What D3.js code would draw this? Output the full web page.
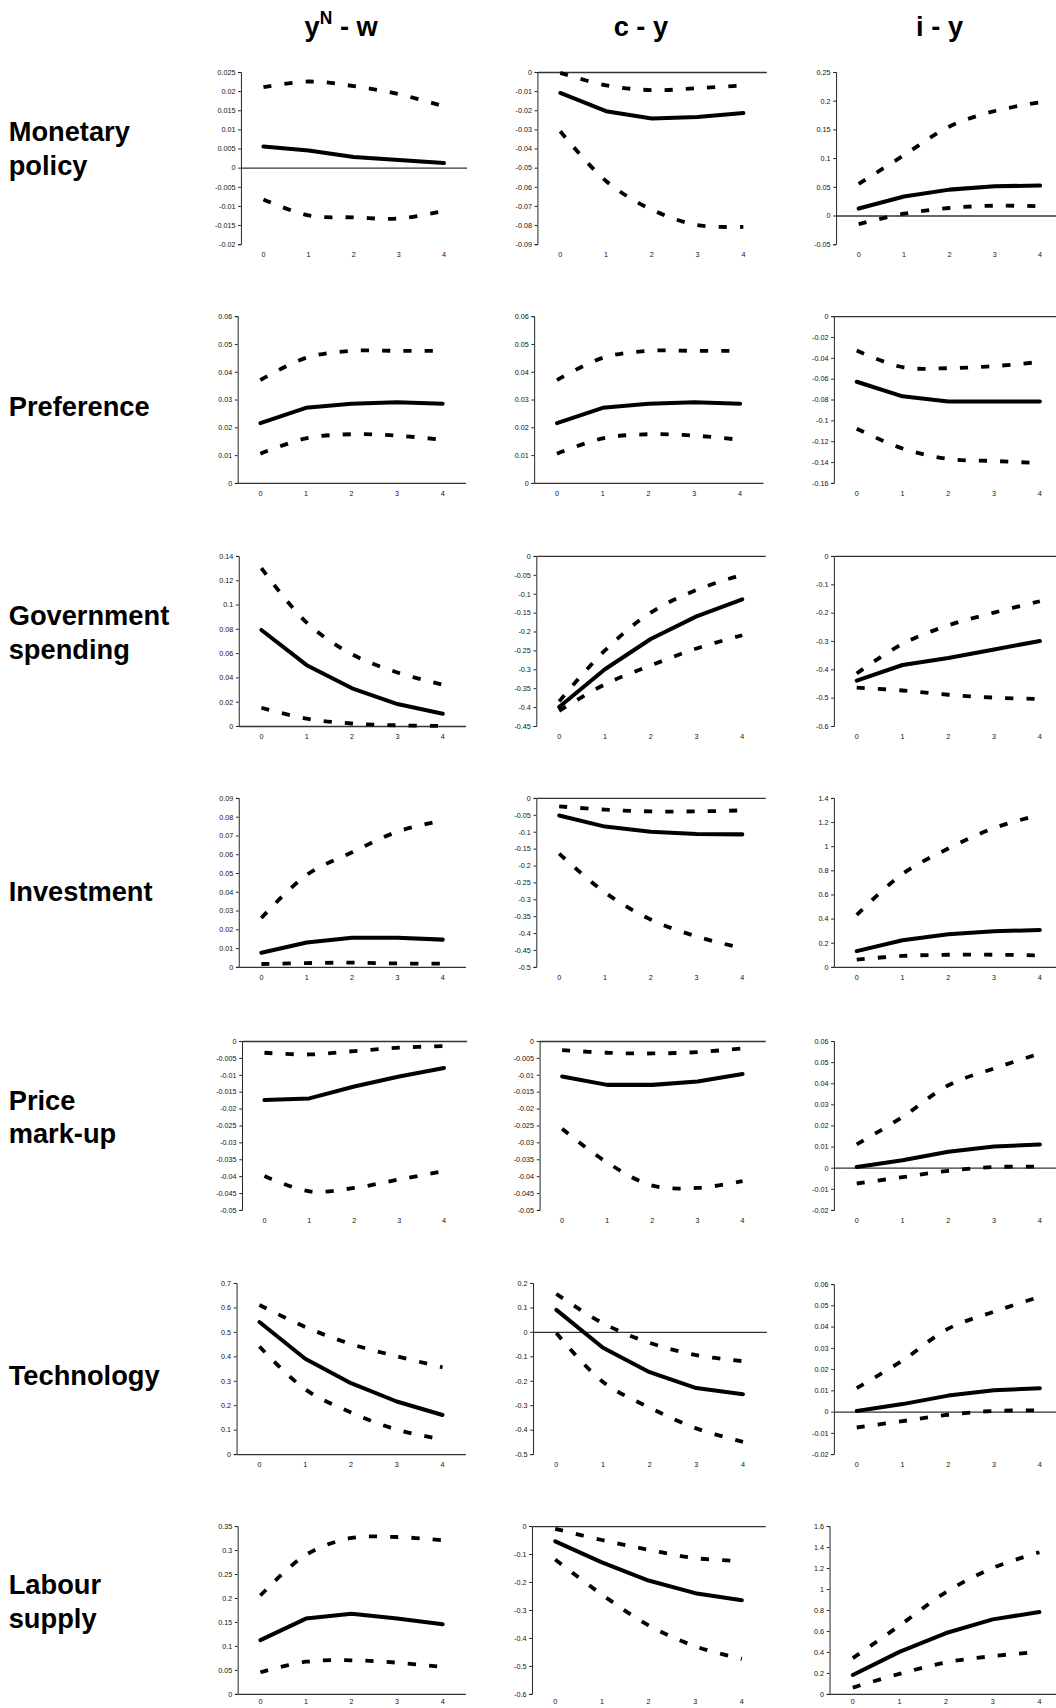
<!DOCTYPE html>
<html>
<head>
<meta charset="utf-8">
<script src="https://cdn.jsdelivr.net/npm/d3@7"></script>
<style>
  body { margin: 0; background: #fff; }
  svg text { font-family: "Liberation Sans", Arial, sans-serif; }
</style>
</head>
<body>
<div id="chart"></div>
<script>
// horizons and labels
var periods = [0, 1, 2, 3, 4];
var shockLabels = [["Monetary", "policy"], ["Preference"], ["Government", "spending"],
                   ["Investment"], ["Price", "mark-up"], ["Technology"], ["Labour", "supply"]];
var varLabels = ["y - w", "c - y", "i - y"];

// each panel: [estimate, upper band, lower band]
var monetary = [
  [[0.0055, 0.0045, 0.0028, 0.002, 0.0012], [0.021, 0.0225, 0.0213, 0.0192, 0.016], [-0.0083, -0.0125, -0.013, -0.0133, -0.0113]],
  [[-0.011, -0.0205, -0.0243, -0.0235, -0.0215], [-0.0005, -0.007, -0.0095, -0.0085, -0.007], [-0.031, -0.057, -0.072, -0.08, -0.081]],
  [[0.012, 0.033, 0.045, 0.051, 0.052], [0.055, 0.105, 0.155, 0.182, 0.197], [-0.015, 0.003, 0.013, 0.017, 0.016]]
];
var preference = [
  [[0.0215, 0.027, 0.0285, 0.029, 0.0285], [0.037, 0.045, 0.0475, 0.0475, 0.0475], [0.0105, 0.016, 0.0175, 0.017, 0.0155]],
  [[0.0215, 0.027, 0.0285, 0.029, 0.0285], [0.037, 0.045, 0.0475, 0.0475, 0.0475], [0.0105, 0.016, 0.0175, 0.017, 0.0155]],
  [[-0.063, -0.077, -0.082, -0.082, -0.082], [-0.033, -0.049, -0.05, -0.048, -0.044], [-0.108, -0.127, -0.137, -0.139, -0.141]]
];
var government = [
  [[0.079, 0.05, 0.031, 0.018, 0.01], [0.13, 0.085, 0.059, 0.044, 0.034], [0.015, 0.006, 0.002, 0.0005, 0.0]],
  [[-0.40, -0.30, -0.22, -0.16, -0.115], [-0.385, -0.25, -0.15, -0.09, -0.05], [-0.41, -0.34, -0.29, -0.245, -0.21]],
  [[-0.44, -0.385, -0.36, -0.33, -0.30], [-0.415, -0.31, -0.245, -0.2, -0.16], [-0.465, -0.475, -0.49, -0.50, -0.505]]
];
var investment = [
  [[0.0075, 0.013, 0.0155, 0.0155, 0.0145], [0.026, 0.049, 0.061, 0.072, 0.078], [0.0015, 0.002, 0.0022, 0.0018, 0.0017]],
  [[-0.052, -0.085, -0.1, -0.107, -0.108], [-0.025, -0.035, -0.04, -0.04, -0.037], [-0.165, -0.28, -0.36, -0.41, -0.445]],
  [[0.13, 0.22, 0.27, 0.295, 0.305], [0.43, 0.77, 0.98, 1.15, 1.26], [0.06, 0.09, 0.1, 0.1, 0.095]]
];
var markup = [
  [[-0.0175, -0.017, -0.0135, -0.0105, -0.008], [-0.0035, -0.004, -0.003, -0.002, -0.0015], [-0.040, -0.0445, -0.0435, -0.041, -0.0385]],
  [[-0.0105, -0.013, -0.013, -0.012, -0.0098], [-0.0027, -0.0035, -0.0037, -0.0033, -0.0022], [-0.026, -0.036, -0.0428, -0.0435, -0.0415]],
  [[0.0003, 0.0035, 0.0075, 0.01, 0.011], [0.011, 0.024, 0.039, 0.047, 0.054], [-0.0075, -0.0045, -0.0015, 0.0003, 0.0005]]
];
var technology = [
  [[0.54, 0.39, 0.29, 0.215, 0.16], [0.61, 0.52, 0.45, 0.4, 0.355], [0.44, 0.265, 0.17, 0.1, 0.06]],
  [[0.09, -0.065, -0.165, -0.23, -0.255], [0.155, 0.035, -0.045, -0.095, -0.12], [-0.005, -0.205, -0.31, -0.395, -0.45]],
  [[0.0003, 0.0035, 0.0075, 0.01, 0.011], [0.011, 0.024, 0.039, 0.047, 0.054], [-0.0075, -0.0045, -0.0015, 0.0003, 0.0005]]
];
var labour = [
  [[0.112, 0.157, 0.167, 0.157, 0.145], [0.205, 0.29, 0.325, 0.327, 0.32], [0.045, 0.067, 0.07, 0.065, 0.056]],
  [[-0.055, -0.13, -0.195, -0.24, -0.265], [-0.01, -0.05, -0.085, -0.115, -0.125], [-0.12, -0.245, -0.355, -0.43, -0.475]],
  [[0.18, 0.4, 0.58, 0.71, 0.78], [0.34, 0.65, 0.97, 1.2, 1.35], [0.06, 0.19, 0.3, 0.36, 0.4]]
];
var shocks = [monetary, preference, government, investment, markup, technology, labour];

// y axis [min, max, step] per panel
var yAxes = [
  [[-0.02, 0.025, 0.005], [-0.09, 0, 0.01], [-0.05, 0.25, 0.05]],
  [[0, 0.06, 0.01], [0, 0.06, 0.01], [-0.16, 0, 0.02]],
  [[0, 0.14, 0.02], [-0.45, 0, 0.05], [-0.6, 0, 0.1]],
  [[0, 0.09, 0.01], [-0.5, 0, 0.05], [0, 1.4, 0.2]],
  [[-0.05, 0, 0.005], [-0.05, 0, 0.005], [-0.02, 0.06, 0.01]],
  [[0, 0.7, 0.1], [-0.5, 0.2, 0.1], [-0.02, 0.06, 0.01]],
  [[0, 0.35, 0.05], [-0.6, 0, 0.1], [0, 1.6, 0.2]]
];

// plot boxes (in a 969 wide frame, scaled up below): left, top, bottom, right
var boxes = [
  [[221, 66, 224, 428], [493, 66, 224, 703], [767, 66, 224, 975]],
  [[218, 290, 443, 427], [490, 290, 443, 700], [765, 290, 443, 975]],
  [[219, 510, 666, 427], [492, 510, 666, 702], [765, 510, 666, 975]],
  [[219, 732, 887, 427], [492, 732, 887, 702], [765, 732, 887, 975]],
  [[222, 955, 1110, 428], [495, 955, 1110, 702], [765, 955, 1110, 975]],
  [[217, 1177, 1334, 427], [489, 1177, 1334, 703], [765, 1178, 1334, 975]],
  [[218, 1400, 1554, 427], [488, 1400, 1554, 702], [761, 1400, 1554, 975]]
];
var labelPad = [7, 7, 7, 7, 7, 7, 5];
var labelBase = [[129, 161], [382], [573, 605], [827], [1018, 1049], [1271], [1462, 1494]];
var titleX = [313, 588, 862];

var width = 1056, height = 1708, k = 1.09;
var svg = d3.select("#chart").append("svg")
    .attr("width", width)
    .attr("height", height)
    .append("g")
    .attr("transform", "scale(" + k + ")");

var fmt = function(d){ return String(+d.toFixed(6)); };

// column titles
varLabels.forEach(function(t, i){
    var txt = svg.append("text")
        .attr("x", titleX[i]).attr("y", 33)
        .attr("text-anchor", "middle")
        .style("font-size", "25px").style("font-weight", "bold");
    if (i == 0) {
        txt.append("tspan").text("y");
        txt.append("tspan").attr("dy", -11).style("font-size", "16px").text("N");
        txt.append("tspan").attr("dy", 11).text(" - w");
    } else {
        txt.text(t);
    }
});

// row labels
shockLabels.forEach(function(lines, r){
    lines.forEach(function(l, j){
        svg.append("text")
            .attr("x", 8).attr("y", labelBase[r][j])
            .style("font-size", "25px").style("font-weight", "bold")
            .text(l);
    });
});

var line = d3.line().x(function(d){ return d[0]; }).y(function(d){ return d[1]; });

shocks.forEach(function(panels, r){
    panels.forEach(function(series, c){
        var b = boxes[r][c], ya = yAxes[r][c];
        var xscale = d3.scaleBand().domain(periods).range([b[0], b[3]]);
        var yscale = d3.scaleLinear().domain([ya[0], ya[1]]).range([b[2], b[1]]);
        var n = Math.round((ya[1] - ya[0]) / ya[2]);
        var ticks = d3.range(n + 1).map(function(j){ return +(ya[0] + j * ya[2]).toFixed(6); });

        var g = svg.append("g");

        // y axis
        var yAxis = d3.axisLeft(yscale).tickValues(ticks).tickFormat(fmt)
            .tickSize(2.5).tickSizeOuter(2.5).tickPadding(2.5);
        var ay = g.append("g")
            .attr("transform", "translate(" + b[0] + ",0)")
            .call(yAxis);
        ay.selectAll("text").style("font-size", "6.6px").attr("fill", "#111");
        ay.selectAll("line, path").attr("stroke", "#222").attr("stroke-width", 0.9);

        // zero line
        var ax0 = g.append("g")
            .attr("transform", "translate(0," + yscale(0) + ")")
            .call(d3.axisBottom(xscale).tickSize(0).tickSizeOuter(0).tickFormat(""));
        ax0.select(".domain").attr("stroke", "#333").attr("stroke-width", 1.2);

        // period labels at bottom
        var axb = g.append("g")
            .attr("transform", "translate(0," + b[2] + ")")
            .call(d3.axisBottom(xscale).tickSize(0).tickPadding(labelPad[r]));
        axb.select(".domain").remove();
        axb.selectAll("text").style("font-size", "6.6px").attr("fill", "#111");

        var pts = function(vals){
            return vals.map(function(v, i){ return [xscale(periods[i]) + xscale.bandwidth() / 2, yscale(v)]; });
        };

        // bands: smoothed dashed lines
        [series[1], series[2]].forEach(function(vals){
            g.append("path")
                .attr("d", line.curve(d3.curveCatmullRom.alpha(0.5))(pts(vals)))
                .attr("fill", "none")
                .attr("stroke", "#000")
                .attr("stroke-width", 3.5)
                .attr("stroke-dasharray", "7.5,12");
        });
        // estimate
        g.append("path")
            .attr("d", line.curve(d3.curveLinear)(pts(series[0])))
            .attr("fill", "none")
            .attr("stroke", "#000")
            .attr("stroke-width", 3.7)
            .attr("stroke-linecap", "round")
            .attr("stroke-linejoin", "round");
    });
});
</script>
</body>
</html>
